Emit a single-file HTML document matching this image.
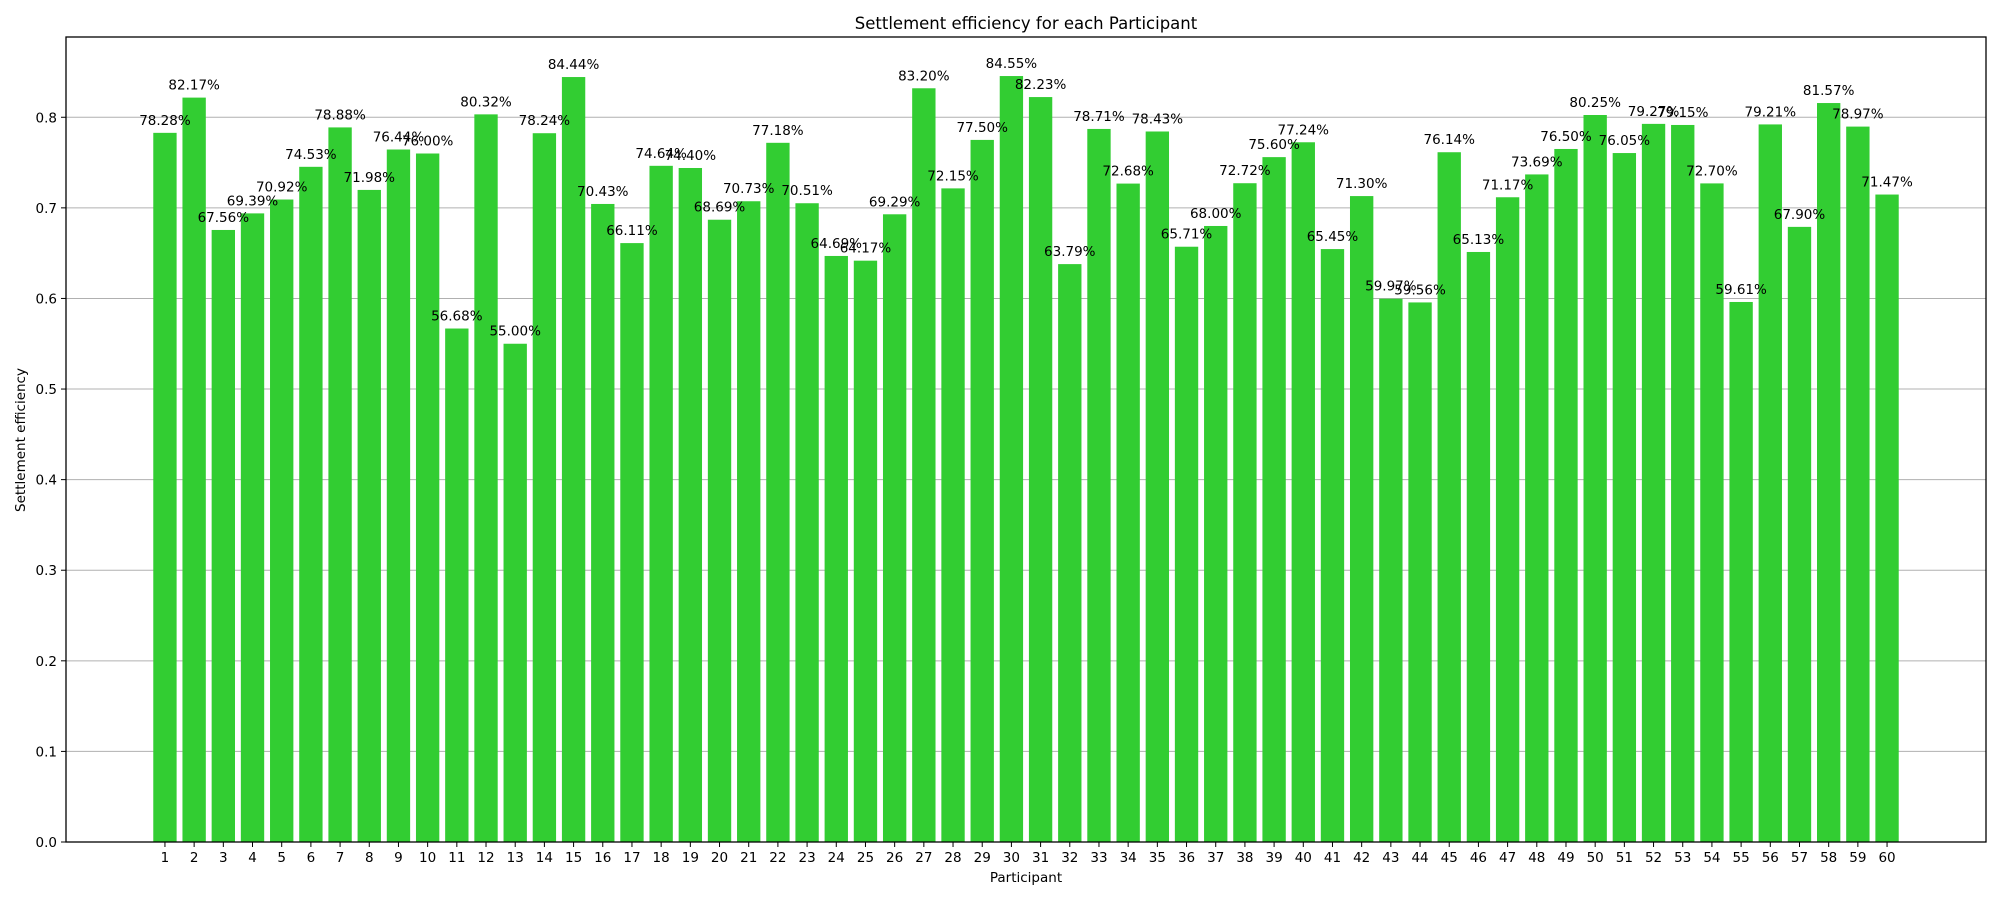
<!DOCTYPE html>
<html><head><meta charset="utf-8"><style>
body{margin:0;background:#fff;}
svg text{font-family:"DejaVu Sans","Liberation Sans",sans-serif;}
</style></head><body>
<svg id="chart" width="2000" height="900" xmlns="http://www.w3.org/2000/svg">
<rect width="2000" height="900" fill="#fff"/>
<text x="1026" y="29" font-size="16.5" text-anchor="middle">Settlement efficiency for each Participant</text>
<text x="1026" y="882" font-size="13.5" text-anchor="middle">Participant</text>
<text transform="translate(25,440) rotate(-90)" font-size="13.5" text-anchor="middle">Settlement efficiency</text>
<g id="grid"></g><g id="bars"></g><g id="labels"></g><g id="xt"></g><g id="yt"></g>
<rect x="66" y="37" width="1920" height="805" fill="none" stroke="#000" stroke-width="1.3"/>
</svg>
<script>
const categories = Array.from({length:60},(_,i)=>String(i+1));
const values = [78.28,82.17,67.56,69.39,70.92,74.53,78.88,71.98,76.44,76.00,56.68,80.32,55.00,78.24,84.44,70.43,66.11,74.64,74.40,68.69,70.73,77.18,70.51,64.69,64.17,69.29,83.20,72.15,77.50,84.55,82.23,63.79,78.71,72.68,78.43,65.71,68.00,72.72,75.60,77.24,65.45,71.30,59.97,59.56,76.14,65.13,71.17,73.69,76.50,80.25,76.05,79.27,79.15,72.70,59.61,79.21,67.90,81.57,78.97,71.47];
const yTicks = [0,0.1,0.2,0.3,0.4,0.5,0.6,0.7,0.8];
const NS="http://www.w3.org/2000/svg";
const L=66,R=1986,T=37,B=842;
const xMin=-2.39,xMax=63.39,yMax=0.8886;
const xs=v=>L+(v-xMin)/(xMax-xMin)*(R-L);
const ys=v=>B-v/yMax*(B-T);
function mk(tag,attrs,parent){const e=document.createElementNS(NS,tag);for(const k in attrs)e.setAttribute(k,attrs[k]);document.getElementById(parent).appendChild(e);return e;}
yTicks.forEach(t=>{
  const y=ys(t);
  const g=mk('line',{x1:L,x2:R,y1:y,y2:y,stroke:'#b0b0b0','stroke-width':1},'grid');
  
  
  mk('line',{x1:L-5,x2:L,y1:y,y2:y,stroke:'#000','stroke-width':1},'yt');
  const tx=mk('text',{x:L-9,y:y+5,'font-size':13.5,'text-anchor':'end'},'yt');
  tx.textContent=t.toFixed(1);
  
  
});
const w=0.8*(xs(1)-xs(0));
values.forEach((v,i)=>{
  const c=xs(i+1),val=v/100,y=ys(val);
  const r=mk('rect',{x:c-w/2,y:y,width:w,height:B-y,fill:'#32cd32'},'bars');
  
  
  const t=mk('text',{x:c,y:y-8,'font-size':13.5,'text-anchor':'middle'},'labels');
  t.textContent=v.toFixed(2)+'%';
  
  
  mk('line',{x1:c,x2:c,y1:B,y2:B+5,stroke:'#000','stroke-width':1},'xt');
  const xl=mk('text',{x:c,y:B+20,'font-size':13.5,'text-anchor':'middle'},'xt');
  xl.textContent=categories[i];
  
  
});
</script>
</body></html>
